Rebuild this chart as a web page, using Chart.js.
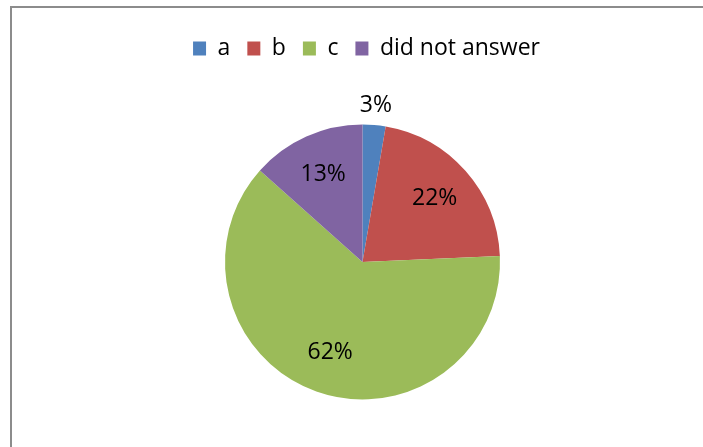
<!DOCTYPE html>
<html>
  <head>
    <meta charset="UTF-8">
    <title>Answers</title>
    <script src="https://cdn.jsdelivr.net/npm/chart.js"></script>
    <style>
      html, body { margin: 0; padding: 0; background: #fff; overflow: hidden; }
      #frame {
        position: absolute; left: 10px; top: 6px; width: 800px; height: 600px;
        border: 2px solid #8c8c8c; box-sizing: border-box;
      }
      #wrap { position: absolute; left: 0; top: 0; width: 703px; height: 447px; }
    </style>
  </head>
  <body>
    <div id="frame"></div>
    <div id="wrap"><canvas id="pieChart"></canvas></div>

    <script>
      // share of answers per option, in percent
      const answerLabels = ['a', 'b', 'c', 'did not answer'];
      const answerShares = [2.7, 21.6, 62.3, 13.4];
      const sliceColors = ['#4F81BD', '#C0504D', '#9BBB59', '#8064A2'];

      const FONT = "'Open Sans', 'DejaVu Sans', sans-serif";

      // draws the percent labels, small slices get theirs outside
      const percentLabels = {
        id: 'percentLabels',
        afterDatasetsDraw(chart) {
          const ctx = chart.ctx;
          const meta = chart.getDatasetMeta(0);
          const values = chart.data.datasets[0].data;
          const total = values.reduce((s, v) => s + v, 0);
          ctx.save();
          ctx.font = '23px ' + FONT;
          ctx.fillStyle = '#000';
          ctx.textAlign = 'center';
          ctx.textBaseline = 'middle';
          meta.data.forEach((arc, i) => {
            const pct = Math.round(values[i] / total * 100);
            const mid = (arc.startAngle + arc.endAngle) / 2;
            const dist = pct < 5 ? arc.outerRadius + 20 : arc.outerRadius * 0.7;
            const x = arc.x + Math.cos(mid) * dist;
            const y = arc.y + Math.sin(mid) * dist;
            ctx.fillText(pct + '%', x, y);
          });
          ctx.restore();
        }
      };

      // a little extra room under the legend, and nudge it right a bit
      const legendGap = {
        id: 'legendGap',
        beforeInit(chart) {
          const fit = chart.legend.fit;
          chart.legend.fit = function () {
            fit.bind(chart.legend)();
            this.height += 10;
          };
        },
        afterLayout(chart) {
          chart.legend.left += 4;
          chart.legend.right += 4;
        }
      };

      const ctx = document.getElementById('pieChart').getContext('2d');
      new Chart(ctx, {
        type: 'pie',
        data: {
          labels: answerLabels,
          datasets: [{
            data: answerShares,
            backgroundColor: sliceColors,
            borderWidth: 0
          }]
        },
        options: {
          responsive: true,
          maintainAspectRatio: false,
          animation: false,
          radius: 137.5,
          layout: { padding: { top: 20, left: 22, right: 0, bottom: 3 } },
          plugins: {
            legend: {
              position: 'top',
              labels: {
                boxWidth: 13,
                boxHeight: 14,
                padding: 17,
                color: '#000',
                font: { family: FONT, size: 23 }
              }
            },
            tooltip: { enabled: false }
          }
        },
        plugins: [percentLabels, legendGap]
      });
    </script>
  </body>
</html>
